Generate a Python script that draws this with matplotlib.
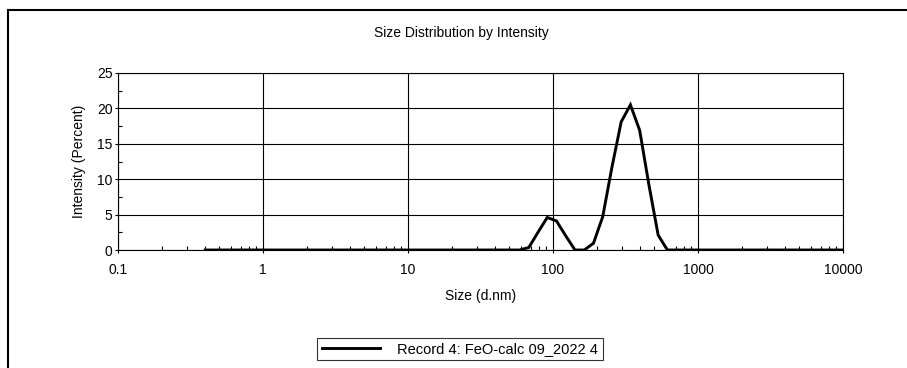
import matplotlib
matplotlib.use("Agg")
import matplotlib.pyplot as plt
from matplotlib.lines import Line2D
from matplotlib.ticker import LogLocator, FixedLocator, NullFormatter

plt.rcParams['font.family'] = ['Liberation Sans', 'DejaVu Sans']

# Size bins (d.nm)
sizes = [0.4000, 0.4632, 0.5365, 0.6213, 0.7195, 0.8332, 0.9649, 1.117, 1.294, 1.499,
         1.736, 2.010, 2.328, 2.696, 3.122, 3.615, 4.187, 4.849, 5.615, 6.503,
         7.531, 8.721, 10.10, 11.70, 13.54, 15.69, 18.17, 21.04, 24.36, 28.21,
         32.67, 37.84, 43.82, 50.75, 58.77, 68.06, 78.82, 91.28, 105.7, 122.4,
         141.8, 164.2, 190.1, 220.2, 255.0, 295.3, 342.0, 396.1, 458.7, 531.2,
         615.1, 712.4, 825.0, 955.4, 1106, 1281, 1484, 1718, 1990, 2305,
         2669, 3091, 3580, 4145, 4801, 5560, 6439, 7456, 8635, 10000]
# Intensity (Percent)
intensity = [0, 0, 0, 0, 0, 0, 0, 0, 0, 0,
             0, 0, 0, 0, 0, 0, 0, 0, 0, 0,
             0, 0, 0, 0, 0, 0, 0, 0, 0, 0,
             0, 0, 0, 0, 0, 0.35, 2.5, 4.6, 4.1, 2.0,
             0, 0, 0.95, 4.7, 11.7, 18.1, 20.5, 16.9, 9.2, 2.1,
             0, 0, 0, 0, 0, 0, 0, 0, 0, 0,
             0, 0, 0, 0, 0, 0, 0, 0, 0, 0]

x_ticks = [0.1, 1, 10, 100, 1000, 10000]
x_tick_labels = ['0.1', '1', '10', '100', '1000', '10000']
y_ticks = [0, 5, 10, 15, 20, 25]
y_tick_labels = ['0', '5', '10', '15', '20', '25']

W, H = 907, 368
fig = plt.figure(figsize=(W / 100, H / 100), dpi=100)
ax = fig.add_axes([118 / W, 1 - 250 / H, (843 - 118) / W, (250 - 73) / H])

ax.set_xscale('log')
ax.set_xlim(0.1, 10000)
ax.set_ylim(0, 25)

ax.plot(sizes, intensity, color='black', lw=2.1, solid_joinstyle='miter',
        label='Record 4: FeO-calc 09_2022 4', zorder=3)

ax.set_xticks(x_ticks)
ax.set_xticklabels(x_tick_labels)
ax.set_yticks(y_ticks)
ax.set_yticklabels(y_tick_labels)
ax.xaxis.set_minor_locator(LogLocator(base=10, subs=range(2, 10), numticks=20))
ax.xaxis.set_minor_formatter(NullFormatter())
ax.yaxis.set_minor_locator(FixedLocator([2.5, 7.5, 12.5, 17.5, 22.5]))

ax.grid(True, which='major', color='black', lw=0.8)
ax.tick_params(axis='x', which='major', direction='out', length=2.5, width=0.8,
               labelsize=10, colors='black', pad=6.5)
ax.tick_params(axis='y', which='major', direction='out', length=2.5, width=0.8,
               labelsize=10, colors='black', pad=1.5)
ax.tick_params(axis='both', which='minor', direction='in', length=3, width=0.8)
for s in ax.spines.values():
    s.set_color('black')
    s.set_linewidth(0.8)

ax.set_xlabel('Size (d.nm)', fontsize=10, labelpad=9)
ax.set_ylabel('Intensity (Percent)', fontsize=10, labelpad=8)
fig.text(461 / W, 1 - 33 / H, 'Size Distribution by Intensity', ha='center', va='center', fontsize=10)

leg = fig.legend(loc='center', bbox_to_anchor=(460 / W, 1 - 349 / H), fontsize=10.5,
                 frameon=True, fancybox=False, handlelength=4.0, handletextpad=1.2,
                 borderpad=0.3, borderaxespad=0)
leg.get_frame().set_edgecolor('black')
leg.get_frame().set_linewidth(0.8)

# outer frame lines
fig.add_artist(Line2D([8 / W, 8 / W], [0, 1 - 10 / H], transform=fig.transFigure, color='black', lw=1.5))
fig.add_artist(Line2D([8 / W, 1], [1 - 10 / H, 1 - 10 / H], transform=fig.transFigure, color='black', lw=1.5))

fig.savefig('out.png', dpi=100)
